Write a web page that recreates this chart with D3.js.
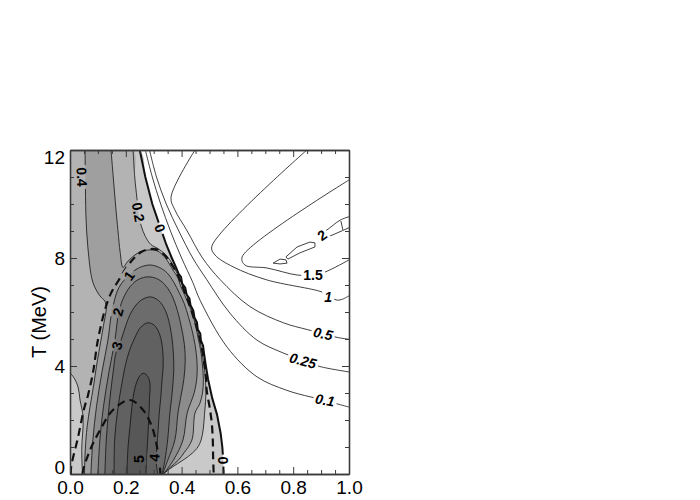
<!DOCTYPE html>
<html>
<head>
<meta charset="utf-8">
<script src="https://cdn.jsdelivr.net/npm/d3@7"></script>
<style>
body{margin:0;background:#fff;}
svg{display:block;font-family:"Liberation Sans",Arial,Helvetica,sans-serif;}
</style>
</head>
<body>
<div id="grafico"></div>
<script>
// axis ticks
var xMajor = [0, 0.2, 0.4, 0.6, 0.8, 1.0];
var xLabels = ["0.0", "0.2", "0.4", "0.6", "0.8", "1.0"];
var xMinor = [0.05, 0.1, 0.15, 0.25, 0.3, 0.35, 0.45, 0.5, 0.55, 0.65, 0.7, 0.75, 0.85, 0.9, 0.95];
var yMajor = [0, 4, 8, 12];
var yLabels = ["0", "4", "8", "12"];
var yMinor = [1, 2, 3, 5, 6, 7, 9, 10, 11];

// contours, [x, T]
var zeroLine = [[0.25,12],[0.27,11],[0.295,10],[0.325,9.1],[0.345,8.5],[0.365,8.0],[0.38,7.65],[0.39,7.4],[0.398,7.3],[0.402,7.05],[0.413,6.9],[0.418,6.65],[0.428,6.5],[0.432,6.25],[0.442,6.05],[0.446,5.8],[0.455,5.62],[0.458,5.35],[0.467,5.2],[0.469,4.95],[0.477,4.75],[0.48,4.5],[0.487,4.0],[0.495,3.5],[0.51,2.8],[0.527,2.2],[0.54,1.5],[0.546,1.0],[0.55,0.4],[0.55,0]];
var c02Left = [[0.045,0],[0.042,0.9],[0.047,2.1],[0.036,2.74],[0.029,3.22],[0.015,3.55],[0,3.75]];
var c02Right = [[0.226,12],[0.232,11],[0.24,10.2],[0.245,9.7],[0.255,9.2],[0.27,8.8],[0.29,8.5],[0.315,8.35],[0.34,8.15],[0.36,7.9],[0.378,7.55],[0.39,7.3],[0.402,7.0],[0.415,6.7],[0.428,6.35],[0.44,6.0],[0.452,5.6],[0.462,5.1],[0.47,4.7],[0.478,4.2],[0.484,3.7],[0.487,3.2],[0.486,2.7],[0.482,2.2],[0.478,1.7],[0.47,1.26],[0.455,0.95],[0.42,0.62],[0.385,0.38],[0.355,0.17],[0.336,0]];
var c04Left = [[0.054,12],[0.055,11],[0.057,9.6],[0.064,8.4],[0.082,7.1],[0.107,6.6],[0.125,6.4],[0.13,6.15],[0.12,5.5],[0.111,4.96],[0.095,4.0],[0.085,3.3],[0.072,2.5],[0.062,1.8],[0.057,1.26],[0.053,0.5],[0.052,0]];
var c04Right = [[0.147,12],[0.155,11],[0.163,10],[0.172,9.0],[0.18,8.2],[0.19,7.65],[0.205,7.85],[0.225,8.05],[0.25,8.22],[0.287,8.3],[0.315,8.25],[0.338,8.05],[0.355,7.8],[0.372,7.5],[0.385,7.3],[0.397,6.95],[0.41,6.65],[0.425,6.3],[0.438,5.95],[0.45,5.5],[0.46,5.0],[0.468,4.6],[0.475,4.0],[0.478,3.5],[0.475,3.0],[0.465,2.6],[0.448,2.26],[0.437,1.26],[0.41,0.8],[0.387,0.5],[0.36,0.25],[0.333,0]];
var c1 = [[0.075,0],[0.082,1.26],[0.095,2.5],[0.115,3.8],[0.136,4.96],[0.15,6.0],[0.175,6.9],[0.215,7.4],[0.25,7.65],[0.287,7.74],[0.32,7.65],[0.348,7.45],[0.372,7.1],[0.392,6.7],[0.41,6.3],[0.425,5.8],[0.438,5.3],[0.448,4.8],[0.455,4.2],[0.455,3.6],[0.445,3.0],[0.42,2.26],[0.405,1.26],[0.37,0.5],[0.334,0]];
var c2 = [[0.1,0],[0.107,1.26],[0.12,2.5],[0.14,3.8],[0.161,4.96],[0.175,6.0],[0.195,6.6],[0.225,7.05],[0.255,7.25],[0.287,7.3],[0.318,7.2],[0.345,6.95],[0.368,6.55],[0.385,6.05],[0.398,5.5],[0.41,4.8],[0.413,4.2],[0.408,3.5],[0.398,2.9],[0.387,2.26],[0.376,1.26],[0.35,0.5],[0.332,0]];
var c3 = [[0.125,0],[0.13,1.26],[0.14,2.5],[0.155,3.8],[0.165,4.5],[0.183,4.96],[0.2,5.5],[0.22,6.0],[0.25,6.4],[0.287,6.56],[0.318,6.42],[0.342,6.05],[0.358,5.5],[0.368,4.8],[0.372,4.0],[0.37,3.5],[0.364,2.8],[0.358,2.26],[0.35,1.26],[0.34,0.5],[0.33,0]];
var c4 = [[0.158,0],[0.16,1.26],[0.17,2.3],[0.185,3.3],[0.205,4.3],[0.23,5.0],[0.255,5.45],[0.28,5.6],[0.303,5.5],[0.322,5.15],[0.332,4.6],[0.334,4.0],[0.33,3.5],[0.325,2.8],[0.32,2.26],[0.315,1.5],[0.31,0.8],[0.31,0.3],[0.315,0]];
var c5 = [[0.204,0],[0.208,1],[0.215,1.75],[0.222,2.5],[0.233,3.2],[0.248,3.6],[0.262,3.73],[0.276,3.65],[0.286,3.4],[0.285,2.8],[0.282,2.0],[0.278,1.2],[0.274,0.5],[0.272,0]];
var dashOuter = [[0.003,0],[0.004,0.26],[0.029,1.37],[0.05,2.4],[0.064,2.9],[0.082,3.73],[0.1,4.96],[0.125,6.07],[0.147,6.7],[0.17,7.1],[0.204,7.67],[0.23,8.0],[0.255,8.22],[0.28,8.32],[0.31,8.32],[0.335,8.15],[0.355,7.9],[0.38,7.5],[0.405,6.9],[0.43,6.2],[0.452,5.5],[0.468,4.9],[0.48,4.2],[0.487,3.6],[0.49,3.1],[0.5,2.5],[0.508,1.9],[0.512,1.2],[0.513,0.63],[0.515,0]];
var dashInner = [[0.045,0],[0.047,0.15],[0.072,0.89],[0.108,1.63],[0.154,2.37],[0.215,2.74],[0.262,2.37],[0.294,1.74],[0.312,1.0],[0.323,0.15],[0.324,0]];
// negative side (white area)
var n01 = [[0.27,12],[0.295,11],[0.325,10],[0.36,9],[0.4,8],[0.44,7.1],[0.466,6.44],[0.563,4.7],[0.67,3.6],[0.777,3.1],[0.86,2.86],[0.914,2.74],[0.957,2.6],[1.0,2.48]];
var n025 = [[0.285,12],[0.31,11],[0.345,10],[0.39,9],[0.44,8.0],[0.49,7.2],[0.573,5.96],[0.67,4.96],[0.76,4.5],[0.835,4.2],[0.896,3.98],[1.0,3.78]];
var n05 = [[0.448,12],[0.362,10.25],[0.375,9.8],[0.42,9.0],[0.475,8.0],[0.538,7.2],[0.645,6.2],[0.765,5.6],[0.85,5.35],[0.907,5.2],[0.957,5.06],[1.0,4.99]];
var n1 = [[0.849,12],[0.508,8.42],[0.52,8.11],[0.585,7.67],[0.705,7.19],[0.903,6.74],[0.925,6.6],[0.957,6.44],[0.978,6.48],[1.0,6.6]];
var n15 = [[1.0,10.89],[0.617,8.04],[0.627,7.74],[0.706,7.63],[0.814,7.37],[0.871,7.37],[0.914,7.48],[1.0,7.93]];
var n2a = [[0.728,7.81],[0.753,7.96],[0.774,7.93],[0.778,7.81],[0.753,7.78],[0.728,7.81]];
var n2b = [[0.774,8.04],[0.814,8.41],[0.86,8.59],[0.878,8.56],[0.878,8.41],[0.824,8.19],[0.781,7.96],[0.774,8.04]];
var n2up = [[0.9,8.9],[0.921,9.04],[0.968,9.4],[1.0,9.53]];
var n2low = [[0.895,8.68],[0.914,8.74],[1.0,9.12]];
var n2tick = [[0.971,9.37],[0.978,9.04]];

// contour labels
var labText = ["0.4", "0.2", "0", "1", "2", "3", "5", "4", "0", "2", "1.5", "1", "0.5", "0.25", "0.1"];
var labPos = [[0.043,11.0],[0.245,9.7],[0.323,9.1],[0.212,7.35],[0.172,6.0],[0.168,4.75],[0.248,0.55],[0.302,0.6],[0.547,0.5],[0.903,8.85],[0.871,7.37],[0.925,6.55],[0.907,5.2],[0.835,4.2],[0.914,2.74]];
var labRot = [88, 80, 70, -55, -75, -75, -90, -85, 90, -35, 0, 0, 12, 15, 10];
var labItalic = [0,0,0,0,0,0,0,0,0,0,0,1,1,1,1];

var W = 700, H = 500;
var x = d3.scaleLinear().domain([0, 1]).range([70, 349]);
var y = d3.scaleLinear().domain([0, 12]).range([474, 150]);

var svg = d3.select("#grafico").append("svg")
	.attr("width", W)
	.attr("height", H);

var defs = svg.append("defs");
defs.append("clipPath").attr("id", "plotclip")
	.append("rect")
	.attr("x", x(0)).attr("y", y(12))
	.attr("width", x(1) - x(0)).attr("height", y(0) - y(12));
var mask = defs.append("mask").attr("id", "labmask")
	.attr("maskUnits", "userSpaceOnUse")
	.attr("x", 0).attr("y", 0).attr("width", W).attr("height", H);
mask.append("rect").attr("width", W).attr("height", H).attr("fill", "#fff");

var smooth = d3.line()
	.x(function(d) { return x(d[0]); })
	.y(function(d) { return y(d[1]); })
	.curve(d3.curveCatmullRom.alpha(0.5));
var straight = d3.line()
	.x(function(d) { return x(d[0]); })
	.y(function(d) { return y(d[1]); });

// filled levels, lowest first
var fills = svg.append("g").attr("clip-path", "url(#plotclip)");
var reg0 = [[0,-0.5],[0,12.5]].concat(zeroLine).concat([[0.55,-0.5]]);
var reg02 = c02Left.concat([[-0.05,3.8],[-0.05,12.3]]).concat(c02Right).concat([[0.336,-0.3]]);
var reg04 = c04Left.concat([[0.052,-0.3],[0.333,-0.3]]).concat(c04Right.slice().reverse());
fills.append("path").attr("d", smooth(reg0) + "Z").attr("fill", "#c9c9c9");
fills.append("path").attr("d", smooth(reg02) + "Z").attr("fill", "#b3b3b3");
fills.append("path").attr("d", smooth(reg04) + "Z").attr("fill", "#9f9f9f");
var lobeCols = ["#8c8c8c", "#7b7b7b", "#6c6c6c", "#616161", "#575757"];
[c1, c2, c3, c4, c5].forEach(function(c, i) {
	var poly = c.concat([[c[c.length - 1][0], -0.3], [c[0][0], -0.3]]);
	fills.append("path").attr("d", smooth(poly) + "Z").attr("fill", lobeCols[i]);
});

// contour lines
var lines = svg.append("g").attr("clip-path", "url(#plotclip)")
	.append("g").attr("mask", "url(#labmask)")
	.attr("fill", "none").attr("stroke", "#111");
[c02Left, c02Right, c04Left, c04Right, c1, c2, c3, c4, c5].forEach(function(c) {
	lines.append("path").attr("d", smooth(c)).attr("stroke-width", 0.8);
});
[n01, n025, n05, n1, n15, n2up, n2low].forEach(function(c) {
	lines.append("path").attr("d", smooth(c)).attr("stroke-width", 0.8);
});
[n2a, n2b, n2tick].forEach(function(c) {
	lines.append("path").attr("d", straight(c)).attr("stroke-width", 0.8);
});
lines.append("path").attr("d", straight(zeroLine)).attr("stroke-width", 2);
[dashOuter, dashInner].forEach(function(c) {
	lines.append("path").attr("d", smooth(c))
		.attr("stroke-width", 2.2)
		.style("stroke-dasharray", ("8, 5"));
});

// labels, and holes in the lines under them
var labs = svg.append("g");
labText.forEach(function(t, i) {
	var tr = "translate(" + x(labPos[i][0]) + "," + y(labPos[i][1]) + ") rotate(" + labRot[i] + ")";
	var txt = labs.append("text")
		.attr("transform", tr)
		.attr("text-anchor", "middle")
		.attr("dy", "0.36em")
		.style("font-size", "14px")
		.style("font-weight", "bold")
		.style("font-style", labItalic[i] ? "italic" : "normal")
		.text(t);
	var b = txt.node().getBBox();
	mask.append("rect")
		.attr("transform", tr)
		.attr("x", b.x - 2).attr("y", b.y + 1)
		.attr("width", b.width + 4).attr("height", b.height - 2)
		.attr("fill", "#000");
});

// frame and ticks on all four sides
function axisStyle(g) {
	g.select(".domain").attr("stroke", "#3a3a3a").attr("stroke-width", 1.3);
	g.selectAll(".tick line").attr("stroke", "#3a3a3a");
	g.selectAll("text").style("font-size", "19px").attr("fill", "#000")
		.style("font-family", "'Liberation Sans', Arial, Helvetica, sans-serif");
}
svg.append("g").attr("transform", "translate(0," + y(0) + ")")
	.call(d3.axisBottom(x).tickValues(xMajor).tickFormat(function(d, i) { return xLabels[i]; })
		.tickSize(-7).tickPadding(7).tickSizeOuter(0))
	.call(axisStyle);
svg.append("g").attr("transform", "translate(0," + y(0) + ")")
	.call(d3.axisBottom(x).tickValues(xMinor).tickFormat("").tickSize(-4).tickSizeOuter(0))
	.call(axisStyle);
svg.append("g").attr("transform", "translate(0," + y(12) + ")")
	.call(d3.axisTop(x).tickValues(xMajor).tickFormat("").tickSize(-7).tickSizeOuter(0))
	.call(axisStyle);
svg.append("g").attr("transform", "translate(0," + y(12) + ")")
	.call(d3.axisTop(x).tickValues(xMinor).tickFormat("").tickSize(-4).tickSizeOuter(0))
	.call(axisStyle);
svg.append("g").attr("transform", "translate(" + x(0) + ",0)")
	.call(d3.axisLeft(y).tickValues(yMajor).tickFormat(function(d, i) { return yLabels[i]; })
		.tickSize(-7).tickPadding(5).tickSizeOuter(0))
	.call(axisStyle)
	.selectAll("text")
	.attr("dy", function(d) { return d === 0 ? "-0.05em" : (d === 12 ? "0.7em" : "0.34em"); });
svg.append("g").attr("transform", "translate(" + x(0) + ",0)")
	.call(d3.axisLeft(y).tickValues(yMinor).tickFormat("").tickSize(-4).tickSizeOuter(0))
	.call(axisStyle);
svg.append("g").attr("transform", "translate(" + x(1) + ",0)")
	.call(d3.axisRight(y).tickValues(yMajor).tickFormat("").tickSize(-7).tickSizeOuter(0))
	.call(axisStyle);
svg.append("g").attr("transform", "translate(" + x(1) + ",0)")
	.call(d3.axisRight(y).tickValues(yMinor).tickFormat("").tickSize(-4).tickSizeOuter(0))
	.call(axisStyle);

svg.append("text")
	.attr("transform", "translate(46," + ((y(0) + y(12)) / 2 + 10) + ") rotate(-90)")
	.attr("text-anchor", "middle")
	.style("font-size", "20px")
	.text("T (MeV)");
</script>
</body>
</html>
